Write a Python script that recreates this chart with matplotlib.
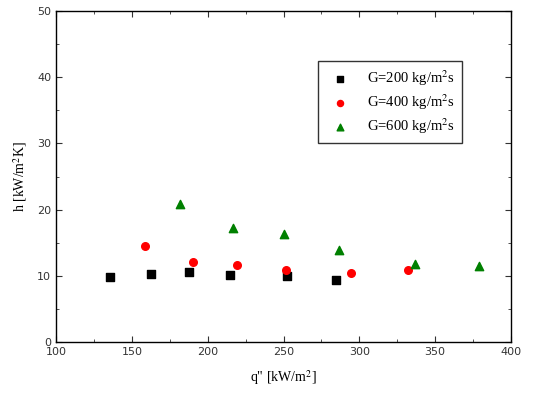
import matplotlib
matplotlib.use('Agg')
import matplotlib.pyplot as plt
from matplotlib.ticker import MultipleLocator

# data
q_200 = [135.9, 162.6, 188.0, 214.7, 252.6, 284.8]
h_200 = [9.8, 10.3, 10.5, 10.1, 9.9, 9.4]

q_400 = [158.5, 190.0, 219.1, 251.5, 294.7, 331.9]
h_400 = [14.5, 12.1, 11.6, 10.9, 10.4, 10.9]

q_600 = [181.5, 216.9, 250.6, 286.6, 336.9, 379.2]
h_600 = [20.8, 17.2, 16.3, 13.9, 11.8, 11.5]

labels = ['G=200 kg/m$^2$s', 'G=400 kg/m$^2$s', 'G=600 kg/m$^2$s']

serif = ['Liberation Serif', 'DejaVu Serif']
plt.rcParams['mathtext.fontset'] = 'stix'

fig = plt.figure(figsize=(5.46, 3.93), dpi=100)
ax = fig.add_axes([56 / 546, 1 - 342 / 393, 455 / 546, 331 / 393])

ax.scatter(q_200, h_200, marker='s', s=28, color='black', label=labels[0])
ax.scatter(q_400, h_400, marker='o', s=30, color='#ff0000', label=labels[1])
ax.scatter(q_600, h_600, marker='^', s=36, color='#008000', label=labels[2])

ax.set_xlim(100, 400)
ax.set_ylim(0, 50)
ax.xaxis.set_major_locator(MultipleLocator(50))
ax.xaxis.set_minor_locator(MultipleLocator(25))
ax.yaxis.set_major_locator(MultipleLocator(10))
ax.yaxis.set_minor_locator(MultipleLocator(5))
ax.tick_params(which='both', direction='in', top=True, right=True, labelsize=8, colors='#333333')
ax.tick_params(which='major', length=4)
ax.tick_params(which='minor', length=2)
for sp in ax.spines.values():
    sp.set_linewidth(1.0)

ax.set_xlabel('q" [kW/m$^2$]', family=serif, fontsize=10, labelpad=8)
ax.set_ylabel('h [kW/m$^2$K]', family=serif, fontsize=10, labelpad=6)

leg = ax.legend(loc='upper right', bbox_to_anchor=(0.893, 0.848), frameon=True, fancybox=False,
                edgecolor='black', prop={'family': serif, 'size': 10.5}, handletextpad=0.9,
                borderpad=0.5, labelspacing=0.3, markerscale=0.8, borderaxespad=0)
leg.get_frame().set_linewidth(1.0)

fig.savefig('out.png', dpi=100)
